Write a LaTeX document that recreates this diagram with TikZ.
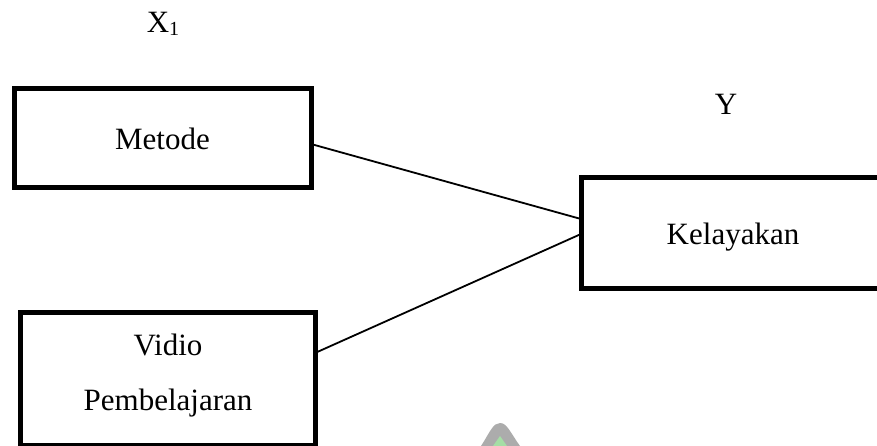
\documentclass[tikz,border=0pt]{standalone}
\usepackage{fontspec}
\setmainfont{Liberation Serif}
\definecolor{wmgray}{RGB}{172,172,172}
\definecolor{wmgreen}{RGB}{165,222,165}
\tikzset{
  varbox/.style={draw=black, line width=5pt, rectangle, inner sep=0pt, outer sep=0pt},
  lbl/.style={anchor=base, inner sep=0pt, font=\fontsize{31}{37}\selectfont},
  link/.style={draw=black, line width=1.8pt}
}
\begin{document}
\begin{tikzpicture}[x=1pt, y=-1pt]
\useasboundingbox (0,0) rectangle (877,446);
% boxes
\node[varbox, minimum width=297pt, minimum height=99pt] (metode) at (162.5,138.5) {};
\node[varbox, minimum width=319pt, minimum height=110.5pt] (kel) at (740.5,232.75) {};
\node[varbox, minimum width=295pt, minimum height=133pt] (vidio) at (167.5,378.5) {};
% labels
\node[lbl] (x1) at (163,33) {X\raisebox{-3pt}{\fontsize{20}{20}\selectfont 1}};
\node[lbl] (y) at (726,115) {Y};
\node[lbl] (tmetode) at (162.5,150) {Metode};
\node[lbl] (tkel) at (733,244) {Kelayakan};
\node[lbl] (tvidio) at (168,355) {Vidio};
\node[lbl] (tpemb) at (168,410) {Pembelajaran};
% connectors
\draw[link] (metode.east |- 0,144) -- (kel.west |- 0,219);
\draw[link] (vidio.east |- 0,353) -- (kel.west |- 0,234);
% watermark fragment
\fill[wmgray] (481,446) .. controls (490,432) and (493,423) .. (500,423) .. controls (507,423) and (510,432) .. (520,446) -- cycle;
\fill[wmgreen] (493,446) -- (500,436) -- (507,446) -- cycle;
\end{tikzpicture}
\end{document}
